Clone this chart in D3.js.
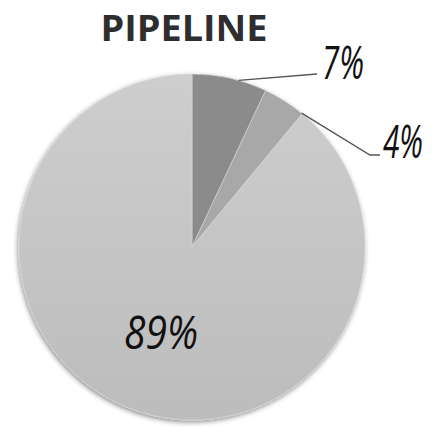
<!DOCTYPE html>
<html>
<head>
<meta charset="utf-8">
<script src="https://cdn.jsdelivr.net/npm/d3@7"></script>
<style>
  html, body { margin: 0; padding: 0; background: #fff; }
  svg { display: block; }
</style>
</head>
<body>
<svg id="chart" width="433" height="427"></svg>
<script>
// Pipeline breakdown
const categories = ["Stage A", "Stage B", "Stage C"];
const values = [7, 4, 89];
const labels = ["7%", "4%", "89%"];
const fills = ["#8b8b8b", "#a8a8a8", "url(#bigFill)"];

const width = 433, height = 427;
const cx = 192, cy = 247, radius = 173;

const svg = d3.select("#chart");
const defs = svg.append("defs");

const grad = defs.append("linearGradient")
  .attr("id", "bigFill").attr("x1", 0).attr("y1", 0).attr("x2", 0).attr("y2", 1);
grad.append("stop").attr("offset", "0%").attr("stop-color", "#cecece");
grad.append("stop").attr("offset", "100%").attr("stop-color", "#bcbcbc");

const shadow = defs.append("filter").attr("id", "pieShadow")
  .attr("x", "-10%").attr("y", "-10%").attr("width", "120%").attr("height", "120%");
shadow.append("feDropShadow")
  .attr("dx", -1).attr("dy", 2).attr("stdDeviation", 2.5)
  .attr("flood-color", "#000").attr("flood-opacity", 0.45);

// Title
svg.append("text")
  .attr("x", 184).attr("y", 41)
  .attr("text-anchor", "middle")
  .attr("font-family", "'Open Sans', sans-serif")
  .attr("font-weight", 700)
  .attr("font-size", 36)
  .attr("textLength", 167)
  .attr("lengthAdjust", "spacingAndGlyphs")
  .attr("fill", "#2e2e30")
  .text("PIPELINE");

const pie = d3.pie().sort(null).value(d => d)(values);
const arc = d3.arc().innerRadius(0).outerRadius(radius);

const g = svg.append("g").attr("transform", `translate(${cx},${cy})`);

g.append("g").attr("filter", "url(#pieShadow)")
  .selectAll("path").data(pie).join("path")
  .attr("d", arc)
  .attr("fill", (d, i) => fills[i])
  .attr("stroke", "#d9d9d9")
  .attr("stroke-width", 0.6);

// Leader lines for the two small slices
const onRim = (d, frac) => {
  const a = d.startAngle + (d.endAngle - d.startAngle) * frac;
  return [radius * Math.sin(a), -radius * Math.cos(a)];
};
const line = d3.line();
const p0 = onRim(pie[0], 0.62);
g.append("path")
  .attr("d", line([p0, [317 - cx, 74 - cy]]))
  .attr("fill", "none").attr("stroke", "#555").attr("stroke-width", 1.4);
const p1 = onRim(pie[1], 0.98);
g.append("path")
  .attr("d", line([p1, [370 - cx, 155 - cy], [380 - cx, 155 - cy]]))
  .attr("fill", "none").attr("stroke", "#555").attr("stroke-width", 1.4);

// Hand-lettered percentage labels, narrowed horizontally to a target width
function addLabel(text, x, y, w) {
  const t = svg.append("text")
    .attr("font-family", "'Open Sans', sans-serif")
    .attr("font-style", "italic")
    .attr("font-weight", 400)
    .attr("font-size", 46)
    .attr("fill", "#111")
    .text(text);
  const natural = t.node().getComputedTextLength();
  t.attr("transform", `translate(${x},${y}) scale(${w / natural},1)`);
}
addLabel(labels[0], 322, 79, 42);
addLabel(labels[1], 383, 158, 40);
addLabel(labels[2], 124, 349, 74);
</script>
</body>
</html>
